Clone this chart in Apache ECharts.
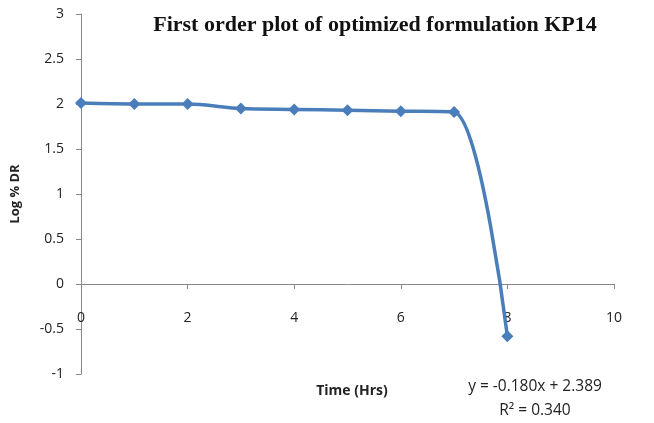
<!DOCTYPE html>
<html><head><meta charset="utf-8">
<script src="https://cdn.jsdelivr.net/npm/echarts@6/dist/echarts.min.js"></script>
<style>html,body{margin:0;padding:0;background:#fff}#c{width:654px;height:423px}</style>
</head><body><div id="c"></div>
<script>
const timeHrs = [0, 1, 2, 3, 4, 5, 6, 7, 8];
const logDR = [2.01, 2.0, 2.0, 1.95, 1.94, 1.93, 1.92, 1.91, -0.58];
const titleText = 'First order plot of optimized formulation KP14';
const xName = 'Time (Hrs)';
const yName = 'Log % DR';
const eqText = 'y = -0.180x + 2.389';
const r2Text = 'R\u00B2 = 0.340';

const chart = echarts.init(document.getElementById('c'), null, {renderer: 'canvas'});
const font = '"Open Sans", "Noto Sans", sans-serif';
chart.setOption({
  animation: false,
  backgroundColor: '#fff',
  title: {
    text: titleText, left: 370, top: 9, textAlign: 'center',
    textStyle: {fontFamily: '"Liberation Serif", serif', fontWeight: 'bold', fontSize: 22, color: '#111'}
  },
  grid: {left: 81, right: 40, top: 14, bottom: 49},
  xAxis: {
    type: 'value', min: 0, max: 10, interval: 2,
    offset: -90,
    axisLine: {onZero: false, lineStyle: {color: '#888', width: 1}},
    axisTick: {show: true, length: 5, lineStyle: {color: '#888'}},
    axisLabel: {margin: 27, fontFamily: font, fontSize: 14, color: '#222'},
    splitLine: {show: false}
  },
  yAxis: {
    type: 'value', min: -1, max: 3, interval: 0.5,
    axisLine: {show: true, lineStyle: {color: '#888', width: 1}},
    axisTick: {show: true, length: 5, lineStyle: {color: '#888'}},
    axisLabel: {margin: 17, fontFamily: font, fontSize: 14, color: '#222'},
    splitLine: {show: false},
    name: yName, nameLocation: 'middle', nameGap: 59, nameRotate: 90,
    nameTextStyle: {fontFamily: font, fontWeight: 'bold', fontSize: 13, color: '#222'}
  },
  graphic: [
    {type: 'text', x: 352, y: 391, style: {text: xName, font: 'bold 14px ' + font, fill: '#222', textAlign: 'center', textVerticalAlign: 'middle'}},
    {type: 'text', x: 535, y: 387, style: {text: eqText, font: '15.5px ' + font, fill: '#222', textAlign: 'center', textVerticalAlign: 'middle'}},
    {type: 'text', x: 535, y: 411, style: {text: r2Text, font: '15.5px ' + font, fill: '#222', textAlign: 'center', textVerticalAlign: 'middle'}}
  ],
  series: [{
    type: 'line',
    data: timeHrs.map((t, i) => [t, logDR[i]]),
    smooth: 0.3,
    symbol: 'diamond', symbolSize: 12,
    lineStyle: {color: '#4a7ebb', width: 3.5},
    itemStyle: {color: '#4a7ebb'}
  }]
});
</script></body></html>
